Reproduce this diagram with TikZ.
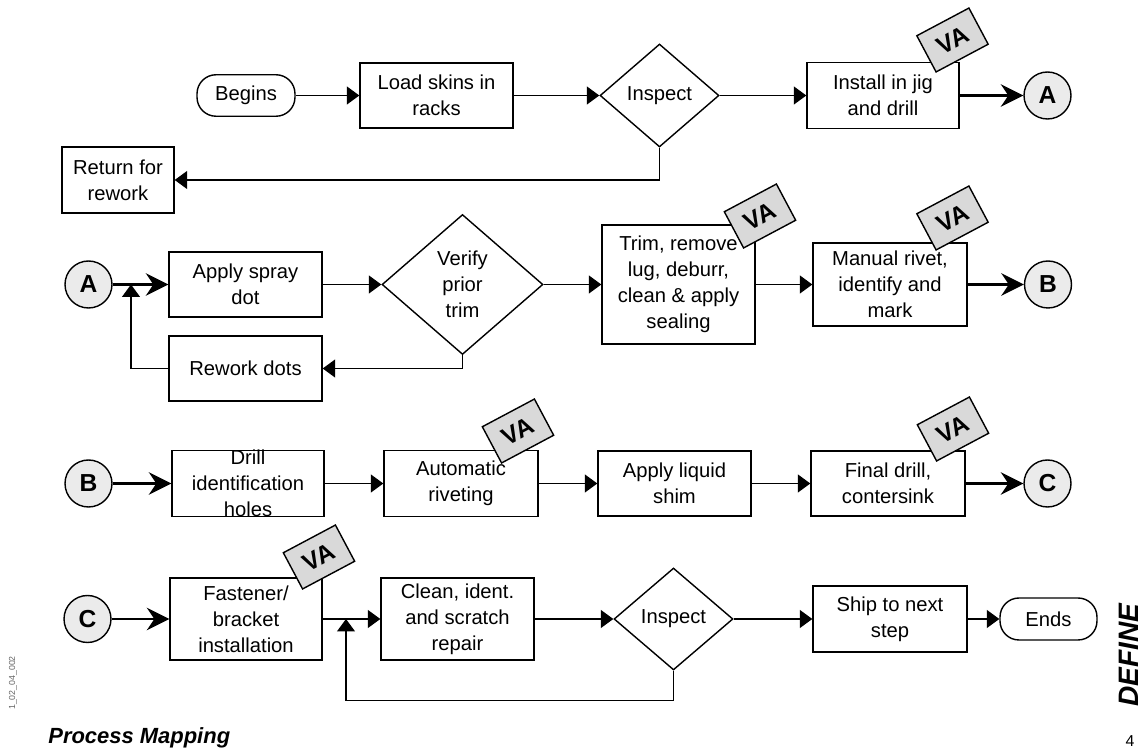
\documentclass[tikz,border=0pt]{standalone}
\usepackage{fontspec}
\setmainfont{Liberation Sans}
\usetikzlibrary{shapes.geometric,arrows.meta}

\begin{document}
\begin{tikzpicture}[x=0.02cm,y=-0.02cm,
  font=\fontsize{11.5}{14.7}\selectfont,
  box/.style={draw,line width=0.8pt,minimum width=3.06cm,minimum height=1.3cm,align=center,inner sep=1pt},
  decision/.style={draw,line width=0.8pt,diamond,inner sep=0pt,align=center},
  terminal/.style={draw,line width=0.8pt,rounded corners=0.38cm,minimum width=1.96cm,minimum height=0.83cm},
  connector/.style={draw,line width=0.8pt,circle,fill=black!8,minimum size=0.94cm,inner sep=0pt,font=\fontsize{14}{14}\selectfont\bfseries},
  va/.style={draw,line width=0.8pt,fill=black!15,minimum width=1.18cm,minimum height=0.82cm,rotate=28,inner sep=0pt,font=\fontsize{14}{14}\selectfont\bfseries},
  flow/.style={line width=0.7pt,-{Triangle[length=0.25cm,width=0.36cm]}},
  link/.style={line width=1.4pt,-{Stealth[length=0.45cm,width=0.45cm,inset=0.15cm]}}]

\useasboundingbox (0,0) rectangle (1147,749);

% row 1
\node[terminal] (begins) at (246,95.5) {Begins};
\node[box] (load) at (436.5,95.5) {Load skins in\\racks};
\node[decision,minimum width=2.38cm,minimum height=2.06cm] (inspA) at (659.5,95.5) {Inspect};
\node[box,minimum width=3.04cm,minimum height=1.32cm] (install) at (883,95.5) {Install in jig\\and drill};
\node[connector] (outA) at (1047.5,95.5) {A};
\node[box,minimum width=2.24cm,minimum height=1.32cm] (return) at (118,180) {Return for\\rework};
\node[va] (vaInstall) at (952.5,40) {VA};

\draw[flow] (begins) -- (load);
\draw[flow] (load) -- (inspA);
\draw[flow] (inspA) -- (install);
\draw[link] (install) -- (outA);
\draw[flow] (inspA.south) |- (return.east);

% row 2
\node[connector] (inA) at (88.5,284.5) {A};
\coordinate (joinA) at (131,284.5);
\node[box] (spray) at (245.5,284.5) {Apply spray\\dot};
\node[decision,minimum width=3.22cm,minimum height=2.8cm] (verify) at (462.5,284.5) {Verify\\prior\\trim};
\node[box,minimum height=2.38cm] (trim) at (678.5,284.5) {Trim, remove\\lug, deburr,\\clean \& apply\\sealing};
\node[box,minimum width=3.08cm,minimum height=1.66cm] (manual) at (890,284.5) {Manual rivet,\\identify and\\mark};
\node[connector] (outB) at (1048,284.5) {B};
\node[box] (rework) at (245.5,368.5) {Rework dots};
\node[va] (vaTrim) at (760,216) {VA};
\node[va] (vaManual) at (952.5,218) {VA};

\draw[link] (inA) -- (spray);
\draw[flow] (spray) -- (verify);
\draw[flow] (verify) -- (trim);
\draw[flow] (trim) -- (manual);
\draw[link] (manual) -- (outB);
\draw[flow] (verify.south) |- (rework.east);
\draw[flow] (rework.west) -| (joinA);

% row 3
\node[connector] (inB) at (88.5,483.5) {B};
\node[box,minimum width=3.04cm,minimum height=1.32cm] (drill) at (248,483.5) {};
\node[align=center] at (drill.center) {Drill\\identification\\holes};
\node[box,minimum width=3.08cm,minimum height=1.32cm] (auto) at (461,483.5) {Automatic\\riveting};
\node[box] (shim) at (674.5,483.5) {Apply liquid\\shim};
\node[box,minimum width=3.08cm] (final) at (888,483.5) {Final drill,\\contersink};
\node[connector] (outC) at (1047.5,483.5) {C};
\node[va] (vaAuto) at (518,431) {VA};
\node[va] (vaFinal) at (953,429) {VA};

\draw[link] (inB) -- (drill);
\draw[flow] (drill) -- (auto);
\draw[flow] (auto) -- (shim);
\draw[flow] (shim) -- (final);
\draw[link] (final) -- (outC);

% row 4
\node[connector] (inC) at (87.5,619) {C};
\node[box,minimum width=3.04cm,minimum height=1.64cm] (fasten) at (246,619) {Fastener/\\bracket\\installation};
\coordinate (joinC) at (346,619);
\node[box,minimum height=1.64cm] (clean) at (457.5,619) {Clean, ident.\\and scratch\\repair};
\node[decision,minimum width=2.38cm,minimum height=2.04cm] (inspC) at (673.5,619) {Inspect};
\node[box,minimum width=3.08cm,minimum height=1.32cm] (ship) at (890,619) {Ship to next\\step};
\node[terminal,minimum width=1.94cm,minimum height=0.84cm] (ends) at (1048.5,619) {Ends};
\node[va] (vaFasten) at (319,557) {VA};

\draw[link] (inC) -- (fasten);
\draw[flow] (fasten) -- (clean);
\draw[flow] (clean) -- (inspC);
\draw[flow] (inspC) -- (ship);
\draw[flow] (ship) -- (ends);
\draw[flow] (inspC.south) -- ++(0,30) -| (joinC);

% page furniture
\node[font=\fontsize{12.5}{14}\selectfont\bfseries\itshape,anchor=west,inner sep=0pt] (title) at (48,738) {Process Mapping};
\node[font=\fontsize{16}{16}\selectfont\bfseries\itshape,rotate=90] (define) at (1129,655) {DEFINE};
\node[font=\fontsize{9}{9}\selectfont] (page) at (1130,741) {4};
\node[font=\fontsize{5}{5}\selectfont,text=black!60,rotate=90] (code) at (13,683) {1\_02\_04\_002};
\end{tikzpicture}
\end{document}
